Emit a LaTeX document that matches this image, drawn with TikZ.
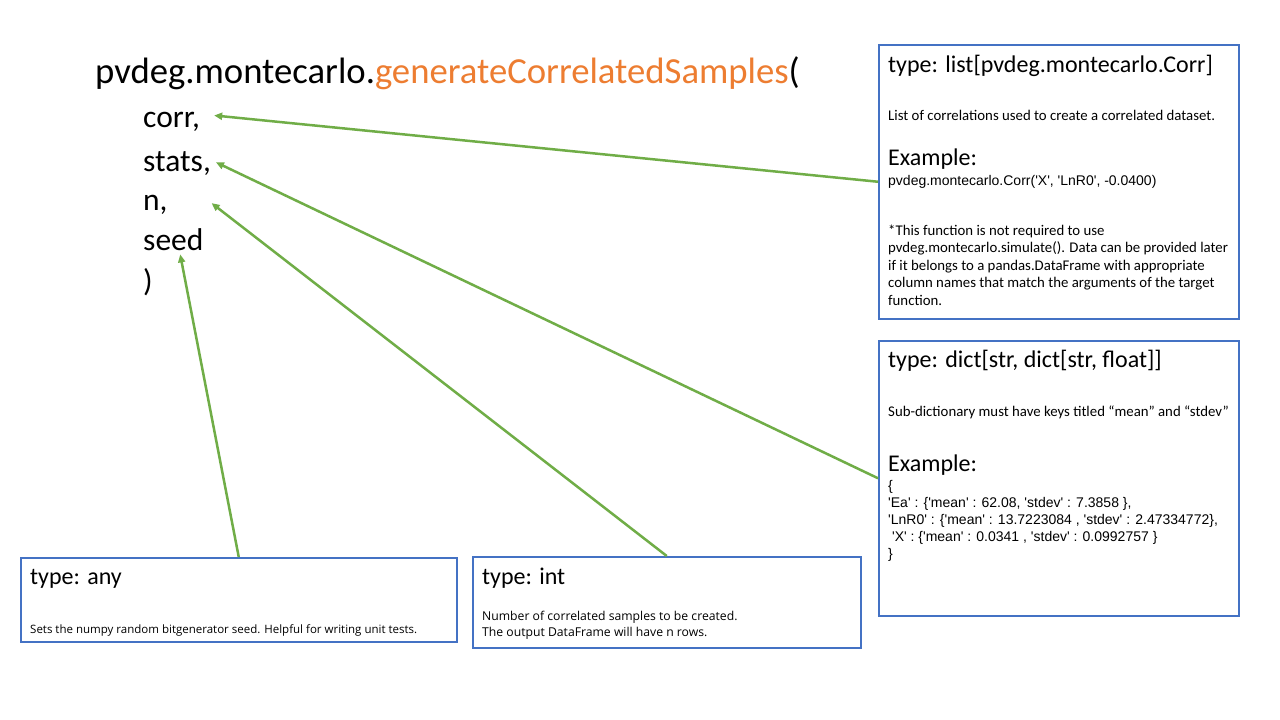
\documentclass[tikz,border=0pt]{standalone}
\usepackage{fontspec}
\setmainfont{Carlito}
\newfontfamily\arialfont{Liberation Sans}
\newfontfamily\segoefont{Open Sans}
\usepackage{tikz}
\usetikzlibrary{arrows, arrows.meta, positioning}
\usepackage{xcolor}
\definecolor{boxblue}{HTML}{4472C4}
\definecolor{argreen}{HTML}{70AD47}
\definecolor{fnorange}{HTML}{ED7D31}

\begin{document}
\begin{tikzpicture}[x=1pt,y=-1pt]
    \tikzstyle{box}=[draw=boxblue,line width=1.5pt,anchor=north west,inner sep=0pt]
    \tikzstyle{arg}=[anchor=base west,inner sep=0pt,font=\fontsize{31.5}{31.5}\selectfont]
    \tikzstyle{head}=[anchor=base west,inner sep=0pt,font=\fontsize{24}{24}\selectfont]
    \tikzstyle{small}=[anchor=base west,inner sep=0pt,align=left,font=\fontsize{14.8}{17.4}\selectfont]
    \tikzstyle{plain}=[anchor=base west,inner sep=0pt,align=left,font=\segoefont\fontsize{11.5}{16}\selectfont]
    \tikzstyle{code}=[anchor=base west,inner sep=0pt,align=left,font=\arialfont\fontsize{14}{17}\selectfont]
    \tikzstyle{link}=[draw=argreen,line width=2.5pt,-{Triangle[length=8pt,width=7pt]},shorten >=1pt]

    \useasboundingbox[fill=white] (0,0) rectangle (1280,720);

    % function signature
    \node[anchor=base west,inner sep=0pt,font=\fontsize{36.7}{36.7}\selectfont] (fn) at (95,83)
        {pvdeg.montecarlo.\textcolor{fnorange}{generateCorrelatedSamples}(};
    \node[arg] (corr) at (143,127) {corr,};
    \node[arg] (stats) at (143,171) {stats,};
    \node[arg] (nrows) at (143,210) {n,};
    \node[arg] (seed) at (143,250) {seed};
    \node[arg] (close) at (143,291) {)};

    % description boxes
    \node[box,minimum width=360,minimum height=274] (corrbox) at (878,44) {};
    \node[box,minimum width=360,minimum height=275] (statsbox) at (878,340) {};
    \node[box,minimum width=436,minimum height=84] (seedbox) at (20,557) {};
    \node[box,minimum width=388,minimum height=91] (nbox) at (472,556) {};

    % corr box (multi-line nodes sit on their last baseline)
    \node[head] (corrtype) at (888,72) {type: list[pvdeg.montecarlo.Corr]};
    \node[small] (corrdesc) at (888,120) {List of correlations used to create a correlated dataset.};
    \node[head] (correx) at (888,165) {Example:};
    \node[code] (corrcode) at (888,185) {pvdeg.montecarlo.Corr('X', 'LnR0', -0.0400)};
    \node[small] (corrnote) at (888,305) {*This function is not required to use\\
        pvdeg.montecarlo.simulate(). Data can be provided later\\
        if it belongs to a pandas.DataFrame with appropriate\\
        column names that match the arguments of the target\\
        function.};

    % stats box
    \node[head] (statstype) at (888,367) {type: dict[str, dict[str, float]]};
    \node[small] (statsdesc) at (888,416) {Sub-dictionary must have keys titled “mean” and “stdev”};
    \node[head] (statsex) at (888,471) {Example:};
    \node[code] (statscode) at (888,558) {\{\\
        'Ea' : \{'mean' : 62.08, 'stdev' : 7.3858 \},\\
        'LnR0' : \{'mean' : 13.7223084 , 'stdev' : 2.47334772\},\\
        \ 'X' : \{'mean' : 0.0341 , 'stdev' : 0.0992757 \}\\
        \}};

    % seed box
    \node[head] (seedtype) at (30,584) {type: any};
    \node[plain] (seeddesc) at (30,633) {Sets the numpy random bitgenerator seed. Helpful for writing unit tests.};

    % n box
    \node[head] (ntype) at (482,584) {type: int};
    \node[plain,font=\segoefont\fontsize{12.2}{16}\selectfont] (ndesc) at (482,636) {Number of correlated samples to be created.\\
        The output DataFrame will have n rows.};

    % connectors
    \draw[link] (corrbox.west) -- ([xshift=13pt,yshift=6pt]corr.east);
    \draw[link] (statsbox.west) -- ([xshift=4pt,yshift=-11pt]stats.north east);
    \draw[link] (nbox.north) -- ([xshift=43pt,yshift=-8pt]nrows.north east);
    \draw[link] (seedbox.north) -- ([xshift=37pt,yshift=-3pt]seed.south west);
\end{tikzpicture}
\end{document}
